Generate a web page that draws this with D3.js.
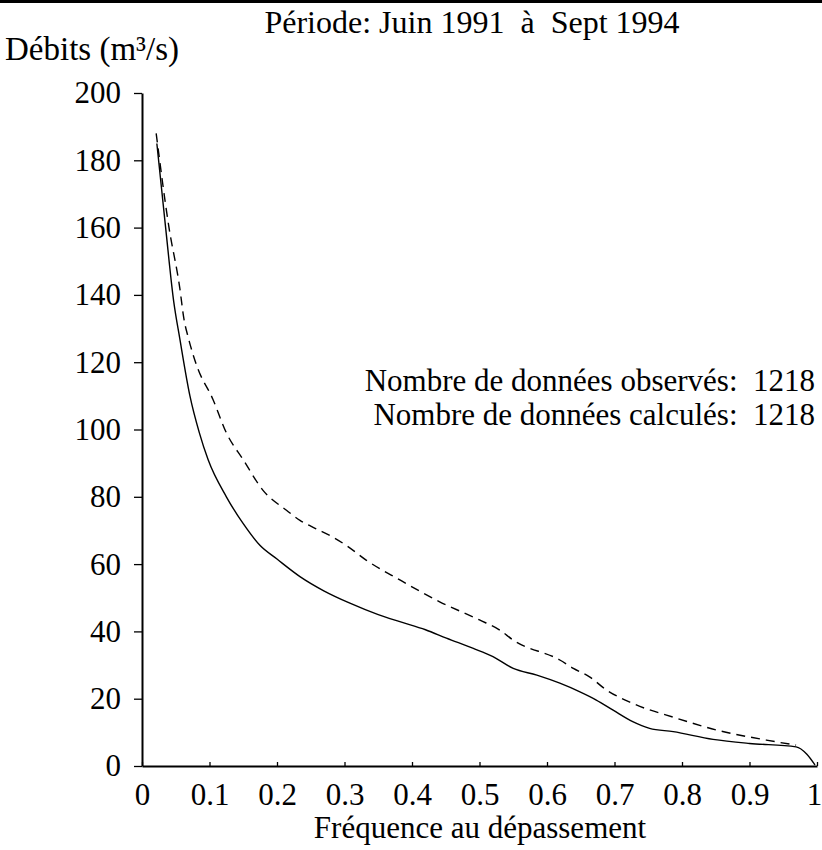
<!DOCTYPE html>
<html>
<head>
<meta charset="utf-8">
<script src="https://cdn.jsdelivr.net/npm/d3@7"></script>
<style>
  body { margin: 0; background: #fff; }
  svg text { font-family: "Liberation Serif", "Times New Roman", serif; fill: #000; white-space: pre; }
</style>
</head>
<body>
<div id="chart"></div>
<script>
// fréquence au dépassement / débits (m3/s)
const freqSolid = [0.022, 0.035, 0.047, 0.056, 0.071, 0.085, 0.098, 0.125, 0.15, 0.175, 0.2, 0.234, 0.27, 0.308, 0.35, 0.382, 0.42, 0.451, 0.49, 0.52, 0.55, 0.585, 0.619, 0.648, 0.673, 0.698, 0.727, 0.752, 0.787, 0.846, 0.9, 0.969, 0.985, 0.997];
const debitSolid = [185, 160, 138, 127, 110, 99, 91, 80, 72, 65.5, 61.5, 56.3, 52, 48.4, 45, 42.9, 40.5, 38, 35, 32.5, 29, 27, 24.6, 22.1, 19.6, 16.6, 13.2, 11.2, 10.2, 7.9, 6.7, 5.7, 3.5, 0.3];

const freqDashed = [0.021, 0.04, 0.056, 0.062, 0.069, 0.081, 0.105, 0.125, 0.15, 0.179, 0.214, 0.234, 0.258, 0.283, 0.303, 0.332, 0.382, 0.441, 0.5, 0.53, 0.55, 0.619, 0.639, 0.663, 0.688, 0.727, 0.792, 0.851, 0.925, 0.969];
const debitDashed = [188, 160, 142, 133, 127, 119, 109, 99, 91, 82, 76, 73, 70.5, 68, 65.5, 61.2, 55.3, 48.8, 43.4, 40.4, 37.4, 31.5, 29, 26.5, 22.6, 18.6, 14.2, 10.7, 7.7, 6.2];

const xTicks = [0, 0.1, 0.2, 0.3, 0.4, 0.5, 0.6, 0.7, 0.8, 0.9, 1];
const yTicks = [0, 20, 40, 60, 80, 100, 120, 140, 160, 180, 200];

const titre = "Période: Juin 1991  à  Sept 1994";
const titreY = "Débits (m³/s)";
const titreX = "Fréquence au dépassement";
const notes = ["Nombre de données observés:  1218", "Nombre de données calculés:  1218"];

const width = 822, height = 850;

const svg = d3.select("#chart")
    .append("svg")
    .attr("width", width)
    .attr("height", height);

// trait du haut (bord de la page)
svg.append("line")
    .attr("x1", 0).attr("x2", width)
    .attr("y1", 1.5).attr("y2", 1.5)
    .attr("stroke", "#000")
    .attr("stroke-width", 3);

const x = d3.scaleLinear().domain([0, 1]).range([142, 817]);
const y = d3.scaleLinear().domain([0, 200]).range([766, 93]);

// axe Y
const gy = svg.append("g")
    .attr("transform", `translate(${x(0)},0)`)
    .call(d3.axisLeft(y).tickValues(yTicks).tickSizeInner(8).tickSizeOuter(0).tickPadding(13));
gy.select(".domain").attr("stroke-width", 2);
gy.selectAll(".tick line").attr("stroke-width", 1.3);
gy.selectAll("text").style("font-size", "31px");

// axe X
const gx = svg.append("g")
    .attr("transform", `translate(0,${y(0)})`)
    .call(d3.axisBottom(x).tickValues(xTicks).tickFormat(d => String(d)).tickSizeInner(-4).tickSizeOuter(0).tickPadding(17));
gx.select(".domain").attr("stroke-width", 2);
gx.selectAll(".tick line").attr("stroke-width", 1.3);
gx.selectAll("text").style("font-size", "31px");
gx.selectAll("text").filter(d => d === 1).attr("dx", -3);

// courbes
const line = d3.line()
    .curve(d3.curveMonotoneX)
    .x(d => x(d[0]))
    .y(d => y(d[1]));

svg.append("path")
    .datum(freqSolid.map((f, i) => [f, debitSolid[i]]))
    .attr("fill", "none")
    .attr("stroke", "#000")
    .attr("stroke-width", 1.4)
    .attr("d", line);

svg.append("path")
    .datum(freqDashed.map((f, i) => [f, debitDashed[i]]))
    .attr("fill", "none")
    .attr("stroke", "#000")
    .attr("stroke-width", 1.4)
    .attr("stroke-dasharray", "9,6")
    .attr("d", line);

// textes
svg.append("text")
    .attr("x", 472)
    .attr("y", 33)
    .attr("text-anchor", "middle")
    .style("font-size", "32px")
    .text(titre);

svg.append("text")
    .attr("x", 5)
    .attr("y", 60)
    .style("font-size", "33px")
    .text(titreY);

svg.append("text")
    .attr("x", 480)
    .attr("y", 838)
    .attr("text-anchor", "middle")
    .style("font-size", "31px")
    .text(titreX);

svg.selectAll(".note")
    .data(notes)
    .join("text")
    .attr("class", "note")
    .attr("x", 815)
    .attr("y", (d, i) => 391 + i * 34)
    .attr("text-anchor", "end")
    .style("font-size", "31px")
    .text(d => d);
</script>
</body>
</html>
